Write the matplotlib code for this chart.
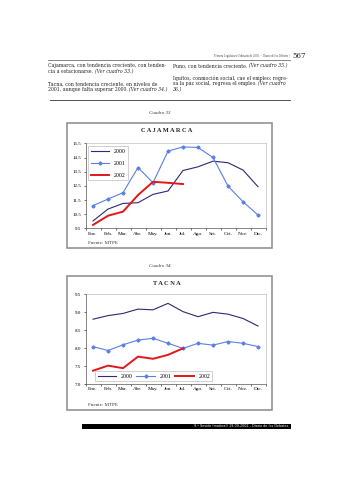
import matplotlib
matplotlib.use("Agg")
import matplotlib.pyplot as plt
from matplotlib.patches import Rectangle

# data
months = ['Ene.', 'Feb.', 'Mar.', 'Abr.', 'May.', 'Jun.', 'Jul.', 'Ago.', 'Set.', 'Oct.', 'Nov.', 'Dic.']

caj_2000 = [10.02, 10.86, 11.26, 11.31, 11.90, 12.14, 13.59, 13.85, 14.25, 14.14, 13.62, 12.44]
caj_2001 = [11.10, 11.57, 12.02, 13.80, 12.72, 14.96, 15.26, 15.22, 14.51, 12.49, 11.38, 10.44]
caj_2002 = [9.74, 10.39, 10.68, 11.85, 12.79, 12.72, 12.63]
caj_ticks = [9.5, 10.5, 11.5, 12.5, 13.5, 14.5, 15.5]

tac_2000 = [8.80, 8.90, 8.96, 9.08, 9.06, 9.24, 9.01, 8.87, 8.99, 8.94, 8.82, 8.61]
tac_2001 = [8.04, 7.93, 8.09, 8.22, 8.27, 8.13, 7.99, 8.13, 8.08, 8.18, 8.13, 8.04]
tac_2002 = [7.37, 7.51, 7.44, 7.76, 7.70, 7.81, 7.99]
tac_ticks = [7.0, 7.5, 8.0, 8.5, 9.0, 9.5]

W, H = 339, 480
fig = plt.figure(figsize=(W / 100, H / 100), dpi=100)
fig.patch.set_facecolor('white')
renderer = fig.canvas.get_renderer()


def px(x, y):
    return x / W, 1 - y / H


def ftext(x, y, s, **kw):
    fx, fy = px(x, y)
    return fig.text(fx, fy, s, **kw)


body = dict(family='DejaVu Serif', fontsize=3.3, color='#222222', va='center')


def line(x, y, normal, italic=''):
    # plain part, then the italic reference right after it
    if normal:
        t = ftext(x, y, normal, **body)
        x = x + t.get_window_extent(renderer).width + 1.6
    if italic:
        ftext(x, y, italic, style='italic', **body)


# page header
ftext(290, 56, 'Primera Legislatura Ordinaria de 2002  -  Diario de los Debates |', family='Liberation Serif',
      fontsize=2.1, color='#444444', ha='right', va='center')
ftext(292.5, 55.5, '567', family='DejaVu Serif', fontsize=5, color='#222222', ha='left', va='center')
fig.add_artist(plt.Line2D([48 / W, 290 / W], [1 - 59.5 / H, 1 - 59.5 / H], color='#555555', lw=0.5))

# two text columns
line(48, 66.0, 'Cajamarca, con tendencia creciente, con tenden-')
line(48, 71.5, 'cia a estacionarse.', '(Ver cuadro 33.)')
line(48, 84.0, 'Tacna, con tendencia creciente, en niveles de')
line(48, 89.5, '2001, aunque falta superar 2000.', '(Ver cuadro 34.)')
line(173, 66.0, 'Puno, con tendencia creciente.', '(Ver cuadro 35.)')
line(173, 78.5, 'Iquitos, conmoción social, cae el empleo; regre-')
line(173, 84.0, 'sa la paz social, regresa el empleo.', '(Ver cuadro')
line(173, 89.5, '', '36.)')
fig.add_artist(plt.Line2D([50 / W, 290 / W], [1 - 99.5 / H, 1 - 99.5 / H], color='#333333', lw=0.6))

serif = 'Liberation Serif'
c2000, c2001, c2002 = '#2a2a78', '#5a80e6', '#e3161b'


def chart(cuadro, title, top, bottom, box_top, box_bottom, s2000, s2001, s2002, ticks, legend_kw):
    ftext(160, box_top - 9, cuadro, family=serif, fontsize=3.6, style='italic', ha='center', color='#333333')
    bx0, by0 = px(67, box_bottom)
    fig.add_artist(Rectangle((bx0, by0), 205 / W, (box_bottom - box_top) / H, transform=fig.transFigure,
                             fill=False, edgecolor='#8a8a8a', lw=1.1))
    ftext(167, box_top + 9, ' '.join(title), family=serif, fontsize=4.6, weight='bold',
          ha='center', color='#222222')
    x0, y0 = px(85.5, bottom)
    ax = fig.add_axes([x0, y0, 180 / W, (bottom - top) / H])
    x = range(len(months))
    ax.plot(x, s2000, color=c2000, lw=0.8, label='2000')
    ax.plot(x, s2001, color=c2001, lw=0.8, marker='D', ms=1.6, label='2001')
    ax.plot(range(len(s2002)), s2002, color=c2002, lw=1.4, label='2002')
    ax.set_xlim(-0.5, len(months) - 0.5)
    ax.set_ylim(ticks[0], ticks[-1])
    ax.set_yticks(ticks)
    ax.set_yticklabels([f'{t:.1f}' for t in ticks], family=serif, fontsize=3.6)
    ax.set_xticks(list(x))
    ax.set_xticklabels(months, family=serif, fontsize=3.8)
    ax.set_xticks([i - 0.5 for i in range(len(months) + 1)], minor=True)
    ax.tick_params(axis='x', which='major', length=0, pad=2.5)
    ax.tick_params(axis='x', which='minor', length=1.5, width=0.4)
    ax.tick_params(axis='y', length=1.5, width=0.4, pad=1.5)
    for side in ['top', 'right']:
        ax.spines[side].set_color('#b0b0b0')
        ax.spines[side].set_linewidth(0.4)
    for side in ['left', 'bottom']:
        ax.spines[side].set_color('#555555')
        ax.spines[side].set_linewidth(0.5)
    leg = ax.legend(prop={'family': serif, 'size': 4.2}, handlelength=3.2, borderpad=0.4,
                    fancybox=False, edgecolor='#999999', **legend_kw)
    leg.get_frame().set_linewidth(0.4)
    ftext(88, box_bottom - 4, 'Fuente: MTPE', family=serif, fontsize=3.6, ha='left', color='#333333')
    return ax


chart('Cuadro 33', 'CAJAMARCA', 143.5, 228.3, 123, 248, caj_2000, caj_2001, caj_2002, caj_ticks,
      dict(loc='upper left', labelspacing=1.2, bbox_to_anchor=(0.0, 1.0)))
chart('Cuadro 34', 'TACNA', 294, 384, 276, 410, tac_2000, tac_2001, tac_2002, tac_ticks,
      dict(loc='lower center', ncol=3, columnspacing=0.6, bbox_to_anchor=(0.38, 0.0)))

# footer bar
fx0, fy0 = px(82, 428.5)
fig.add_artist(Rectangle((fx0, fy0), 209 / W, 4.5 / H, transform=fig.transFigure, facecolor='black',
                         edgecolor='none'))
ftext(288, 426.2, '9.ª Sesión (matinal) 19-09-2002 - Diario de los Debates', family='DejaVu Sans',
      fontsize=2.4, color='white', ha='right', va='center')

fig.savefig('out.png', dpi=100, facecolor='white')
